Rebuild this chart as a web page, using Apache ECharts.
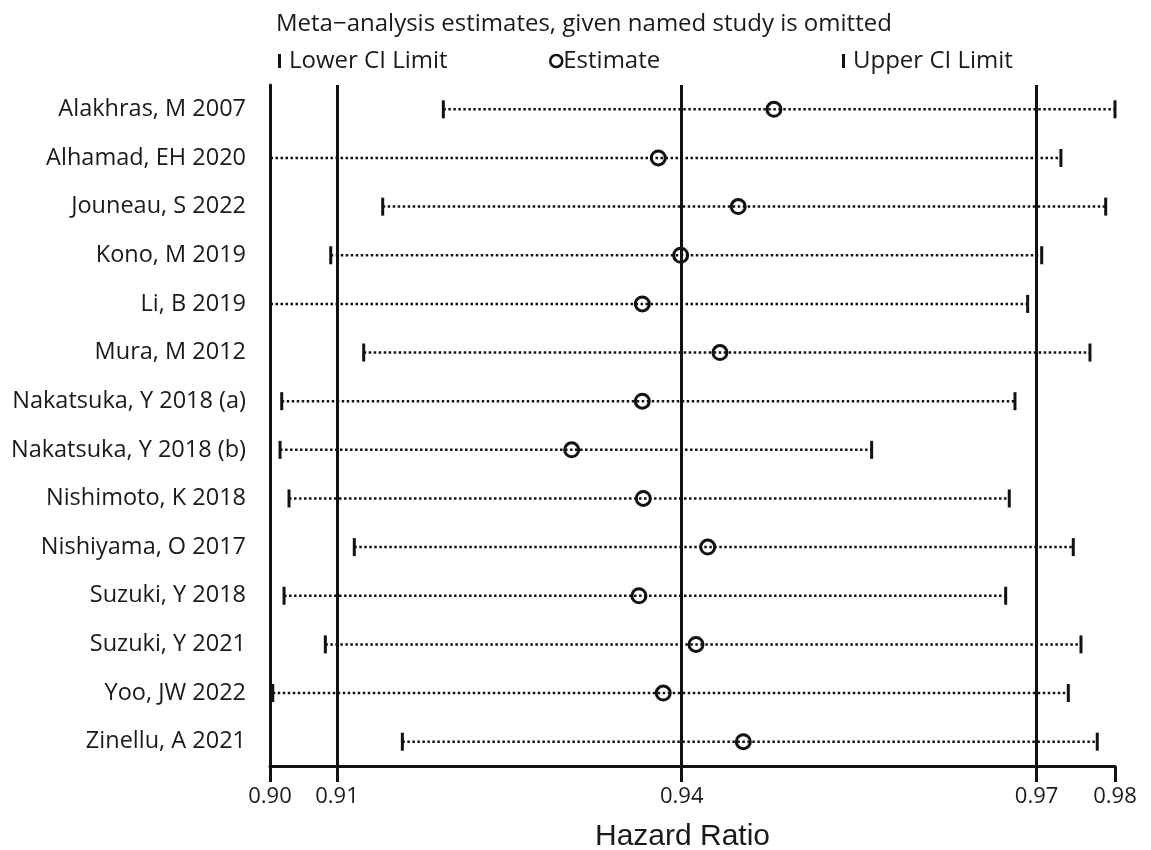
<!DOCTYPE html>
<html>
<head>
<meta charset="utf-8">
<title>Meta-analysis influence plot</title>
<script src="https://cdn.jsdelivr.net/npm/echarts@6/dist/echarts.min.js"></script>
<style>
  html, body { margin: 0; padding: 0; background: #fff; }
  #chart { width: 1151px; height: 850px; }
</style>
</head>
<body>
<div id="chart"></div>
<script>
var studies = [
  'Alakhras, M 2007', 'Alhamad, EH 2020', 'Jouneau, S 2022', 'Kono, M 2019',
  'Li, B 2019', 'Mura, M 2012', 'Nakatsuka, Y 2018 (a)', 'Nakatsuka, Y 2018 (b)',
  'Nishimoto, K 2018', 'Nishiyama, O 2017', 'Suzuki, Y 2018', 'Suzuki, Y 2021',
  'Yoo, JW 2022', 'Zinellu, A 2021'
];
var lowerCI = [0.91681, 0.90045, 0.91107, 0.90615, 0.90045, 0.90927, 0.90151,
  0.90135, 0.90220, 0.90838, 0.90173, 0.90564, 0.90066, 0.91293];
var estimates = [0.94811, 0.93716, 0.94473, 0.93928, 0.93565, 0.94300, 0.93565,
  0.92896, 0.93574, 0.94184, 0.93533, 0.94073, 0.93763, 0.94521];
var upperCI = [0.9804, 0.97528, 0.97952, 0.97346, 0.97213, 0.97803, 0.97093,
  0.95736, 0.97039, 0.97645, 0.97005, 0.97718, 0.97598, 0.97872];

// overall pooled lower CI, estimate, upper CI
var overallLines = [0.90674, 0.93938, 0.97298];
var axisMin = 0.9004;
var axisMax = 0.9804;
var tickValues = [axisMin, overallLines[0], overallLines[1], overallLines[2], axisMax];

var ink = '#111';
var textColor = '#1a1a1a';

var rangeData = studies.map(function (s, i) {
  return [i, lowerCI[i], upperCI[i]];
});

var chart = echarts.init(document.getElementById('chart'));

chart.setOption({
  animation: false,
  backgroundColor: '#fff',
  title: {
    text: 'Meta\u2212analysis estimates, given named study is omitted',
    left: 271,
    top: 7,
    textStyle: {
      fontFamily: 'Open Sans',
      fontSize: 24,
      fontWeight: 'normal',
      color: textColor
    }
  },
  legend: [
    {
      data: ['Lower CI Limit'],
      left: 273,
      top: 44,
      icon: 'rect',
      itemWidth: 3,
      itemHeight: 14,
      textStyle: { fontFamily: 'Open Sans', fontSize: 24, color: textColor, padding: [0, 0, 0, 3] }
    },
    {
      data: ['Estimate'],
      left: 544,
      top: 44,
      icon: 'circle',
      itemWidth: 12,
      itemHeight: 12,
      itemStyle: { borderWidth: 2.5 },
      textStyle: { fontFamily: 'Open Sans', fontSize: 24, color: textColor, padding: [0, 0, 0, -4] }
    },
    {
      data: ['Upper CI Limit'],
      left: 837,
      top: 44,
      icon: 'rect',
      itemWidth: 3,
      itemHeight: 14,
      textStyle: { fontFamily: 'Open Sans', fontSize: 24, color: textColor, padding: [0, 0, 0, 3] }
    }
  ],
  grid: {
    left: 270,
    right: 36,
    top: 85,
    bottom: 84,
    outerBoundsMode: 'none'
  },
  xAxis: {
    type: 'value',
    min: axisMin,
    max: axisMax,
    name: 'Hazard Ratio',
    nameLocation: 'middle',
    nameGap: 56,
    nameTextStyle: {
      fontFamily: 'Liberation Sans',
      fontSize: 30,
      color: textColor,
      padding: [0, 20, 0, 0]
    },
    axisLine: { show: true, lineStyle: { color: ink, width: 3 } },
    axisTick: {
      show: true,
      length: 16,
      customValues: tickValues,
      lineStyle: { color: ink, width: 3 }
    },
    axisLabel: {
      customValues: tickValues,
      margin: 20,
      fontFamily: 'Open Sans',
      fontSize: 22,
      color: textColor,
      formatter: function (v) { return v.toFixed(2); }
    },
    splitLine: { show: false }
  },
  yAxis: {
    type: 'category',
    inverse: true,
    data: studies,
    axisLine: { show: true, lineStyle: { color: ink, width: 3 } },
    axisTick: { show: false },
    axisLabel: {
      margin: 24,
      fontFamily: 'Open Sans',
      fontSize: 23.5,
      color: textColor
    },
    splitLine: { show: false }
  },
  series: [
    {
      name: 'CI range',
      type: 'custom',
      silent: true,
      data: rangeData,
      encode: { x: [1, 2], y: 0 },
      renderItem: function (params, api) {
        var p1 = api.coord([api.value(1), api.value(0)]);
        var p2 = api.coord([api.value(2), api.value(0)]);
        return {
          type: 'line',
          shape: { x1: p1[0], y1: p1[1], x2: p2[0], y2: p2[1] },
          style: { stroke: ink, lineWidth: 2.5, lineDash: [2.5, 2.5] }
        };
      },
      markLine: {
        silent: true,
        precision: 6,
        symbol: ['none', 'none'],
        label: { show: false },
        lineStyle: { color: ink, width: 3, type: 'solid', opacity: 1 },
        data: overallLines.map(function (v) { return { xAxis: v }; })
      },
      z: 2
    },
    {
      name: 'Lower CI Limit',
      type: 'scatter',
      symbol: 'rect',
      symbolSize: [3, 18],
      itemStyle: { color: ink, opacity: 1 },
      data: studies.map(function (s, i) { return [lowerCI[i], i]; }),
      z: 3
    },
    {
      name: 'Upper CI Limit',
      type: 'scatter',
      symbol: 'rect',
      symbolSize: [3, 18],
      itemStyle: { color: ink, opacity: 1 },
      data: studies.map(function (s, i) { return [upperCI[i], i]; }),
      z: 3
    },
    {
      name: 'Estimate',
      type: 'scatter',
      symbol: 'circle',
      symbolSize: 14,
      itemStyle: { color: 'rgba(255,255,255,0)', borderColor: ink, borderWidth: 3, opacity: 1 },
      data: studies.map(function (s, i) { return [estimates[i], i]; }),
      z: 4
    }
  ]
});
</script>
</body>
</html>
